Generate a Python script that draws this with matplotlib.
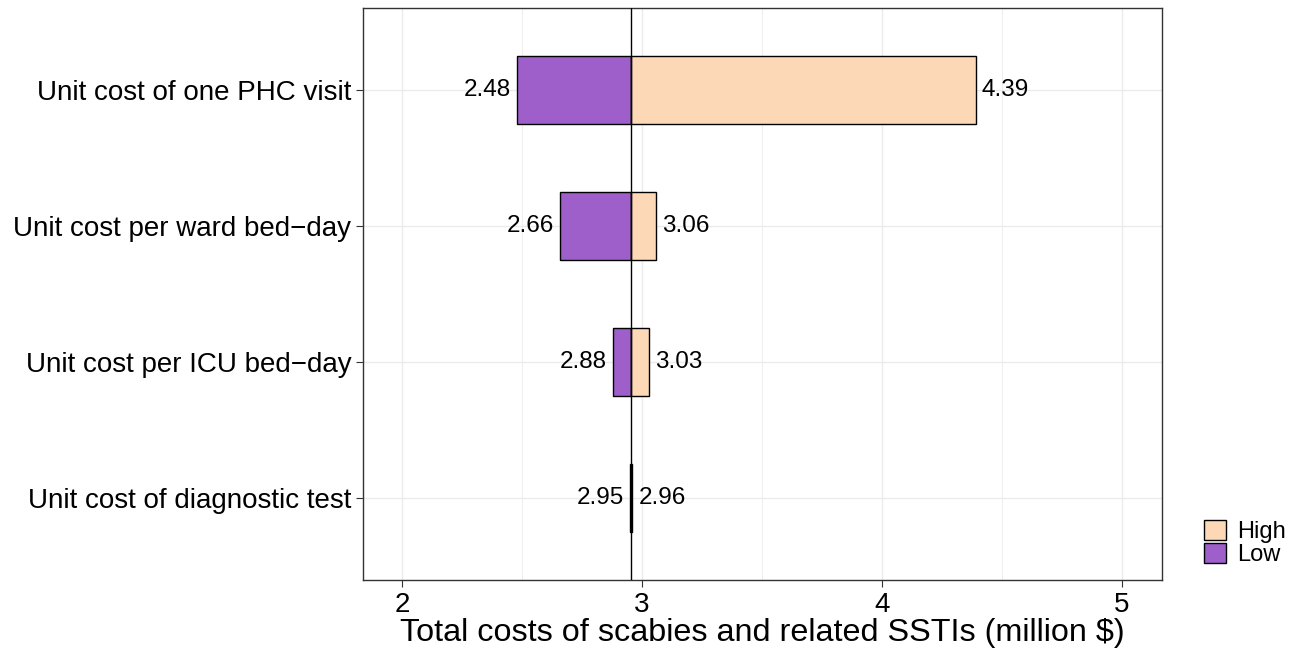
import matplotlib.pyplot as plt
from matplotlib.patches import Patch

plt.rcParams['font.family'] = ['Liberation Sans', 'DejaVu Sans']

# data
params = ['Unit cost of one PHC visit', 'Unit cost per ward bed\u2212day',
          'Unit cost per ICU bed\u2212day', 'Unit cost of diagnostic test']
low = [2.48, 2.66, 2.88, 2.95]
high = [4.39, 3.06, 3.03, 2.96]
base = 2.955

col_low = '#9E5FCB'
col_high = '#FDD8B6'

fig = plt.figure(figsize=(12.94, 6.53), dpi=100)
ax = fig.add_axes([363 / 1294, 1 - 580 / 653, (1162 - 363) / 1294, (580 - 8) / 653])

ypos = list(range(1, len(params) + 1))
for y, lo, hi in zip(ypos, low, high):
    ax.barh(y, lo - base, left=base, height=0.5, color=col_low,
            edgecolor='black', linewidth=1, zorder=3)
    ax.barh(y, hi - base, left=base, height=0.5, color=col_high,
            edgecolor='black', linewidth=1, zorder=3)
    ax.text(lo - 0.025, y, '%.2f' % lo, ha='right', va='center', fontsize=17.5)
    ax.text(hi + 0.025, y, '%.2f' % hi, ha='left', va='center', fontsize=17.5)

ax.axvline(base, color='black', linewidth=1, zorder=4)

ax.set_xlim(1.8375, 5.1667)
ax.set_ylim(4.6, 0.4)
ax.set_xticks([2, 3, 4, 5])
ax.set_xticks([2.5, 3.5, 4.5], minor=True)
ax.set_yticks(ypos)
ax.set_yticklabels(params)
ax.tick_params(axis='both', which='major', labelsize=20, length=5, color='#333333')
ax.tick_params(axis='x', which='minor', length=0)
ax.grid(True, which='major', color='#EBEBEB', linewidth=1, zorder=0)
ax.grid(True, which='minor', axis='x', color='#EBEBEB', linewidth=0.6, zorder=0)
ax.set_axisbelow(True)
for s in ax.spines.values():
    s.set_color('#333333')
    s.set_linewidth(1)

ax.set_xlabel('Total costs of scabies and related SSTIs (million $)', fontsize=23.3, labelpad=0)

handles = [Patch(facecolor=col_high, edgecolor='black', label='High'),
           Patch(facecolor=col_low, edgecolor='black', label='Low')]
fig.legend(handles=handles, loc='center left', bbox_to_anchor=(1192 / 1294, 1 - 543 / 653),
           frameon=False, fontsize=17, handlelength=0.95, handleheight=0.95,
           handletextpad=0.45, labelspacing=0.0, borderpad=0)

fig.savefig('out.png', dpi=100)
